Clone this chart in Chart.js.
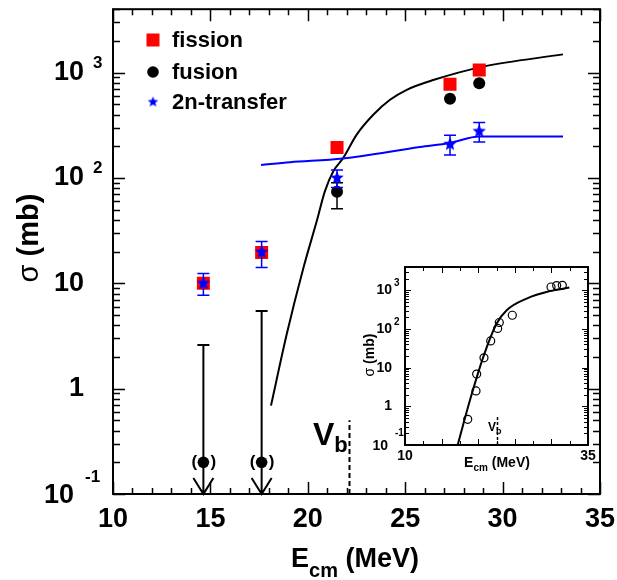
<!DOCTYPE html>
<html>
<head>
<meta charset="utf-8">
<script src="https://cdn.jsdelivr.net/npm/chart.js@4/dist/chart.umd.min.js"></script>
<style>
  body { margin: 0; background: #fff; }
  #wrap { position: relative; width: 617px; height: 580px; }
  #main { position: absolute; left: 0; top: 0; }
  #inset { position: absolute; left: 340px; top: 255px; }
</style>
</head>
<body>
<div id="wrap">
  <canvas id="main" width="617" height="580"></canvas>
  <canvas id="inset" width="277" height="225"></canvas>
</div>
<script>
// --- DATOS ---
const energias = [14.64, 17.63, 21.5, 27.3, 28.8];
const fision = [10, 19.6, 195, 776, 1060];

const fusionE = [21.5, 27.3, 28.8];
const fusion = [74, 565, 792];
const fusionErrBajo = [51, null, null];
const fusionErrAlto = [90, null, null];

// límites superiores de fusión (puntos entre paréntesis con flecha)
const limiteE = [14.64, 17.63];
const limitePunto = [0.2, 0.2];
const limiteTope = [2.6, 5.45];

const transferE = [14.64, 17.63, 21.5, 27.3, 28.8];
const transfer = [10, 19.8, 100, 209, 277];
const transferErrBajo = [7.7, 14.1, 81, 165, 219];
const transferErrAlto = [12.4, 24.9, 119, 255, 337];

// curva calculada de fusión
const curvaFusionE = [18.11, 18.92, 19.77, 20.46, 20.88, 21.31, 21.82, 22.51, 23.36, 24.22, 25.08, 26.44, 29.0, 33.1];
const curvaFusion = [0.69, 3.3, 13.9, 39, 75, 116, 155, 258, 398, 552, 687, 850, 1140, 1490];

// curva calculada de transferencia 2n
const curvaTransferE = [17.6, 19.09, 21.8, 25.76, 27.3, 28.8, 33.1];
const curvaTransfer = [133, 141, 153, 197, 215, 247, 247];

const vbEnergia = 22.13;
const vbTope = 0.5;

const ticksX = [10, 15, 20, 25, 30, 35];
const ticksY = [0.1, 1, 10, 100, 1000];
const etiquetasY = [['10', '-1'], ['1', ''], ['10', ''], ['10', '2'], ['10', '3']];

// inserto
const insetE = [18.57, 19.70, 19.79, 20.79, 21.71, 22.66, 22.88, 24.66, 29.95, 30.72, 31.49];
const insetSigma = [0.46, 2.5, 6.8, 17.9, 49, 103, 147, 226, 1217, 1320, 1340];
const insetCurvaE = [17.2, 18.88, 20.70, 22.52, 23.89, 26.62, 29.81, 32.45];
const insetCurva = [0.1, 1.45, 19, 138, 305, 611, 955, 1175];
const insetVb = 22.5;
const insetTicksX = [10, 35];

const FUENTE = '"Liberation Sans", Arial, Helvetica, sans-serif';

const zip = (xs, ys) => xs.map((v, i) => ({ x: v, y: ys[i] }));

function hacerEstrella(r, color) {
  const c = document.createElement('canvas');
  c.width = c.height = Math.ceil(r * 2) + 2;
  const g = c.getContext('2d');
  g.fillStyle = color;
  g.beginPath();
  for (let i = 0; i < 10; i++) {
    const rad = i % 2 ? r * 0.45 : r;
    const ang = -Math.PI / 2 + i * Math.PI / 5;
    g.lineTo(c.width / 2 + rad * Math.cos(ang), c.height / 2 + rad * Math.sin(ang));
  }
  g.closePath();
  g.fill();
  return c;
}
const estrella = hacerEstrella(7, '#0000ff');
const estrellaLeyenda = hacerEstrella(5.5, '#0000ff');

// --- EJES DIBUJADOS A MANO (ticks hacia dentro) ---
function dibujarMarco(chart, cfg) {
  const { ctx, chartArea: a, scales: { x, y } } = chart;
  ctx.save();
  ctx.strokeStyle = '#000';
  ctx.lineWidth = cfg.anchoTick;
  ctx.beginPath();
  for (let v = x.min; v <= x.max + 1e-9; v += cfg.pasoX) {
    const px = Math.round(x.getPixelForValue(v)) + 0.5;
    const mayor = Math.abs(v / cfg.mayorX - Math.round(v / cfg.mayorX)) < 1e-6;
    const L = mayor ? cfg.largo : cfg.corto;
    ctx.moveTo(px, a.bottom); ctx.lineTo(px, a.bottom - L);
    ctx.moveTo(px, a.top); ctx.lineTo(px, a.top + L);
  }
  for (let k = -1; k <= 3; k++) {
    for (let d = 1; d <= 9; d++) {
      const v = d * Math.pow(10, k);
      if (v > y.max) break;
      const py = Math.round(y.getPixelForValue(v)) + 0.5;
      const L = d === 1 ? cfg.largo : cfg.cortoY;
      ctx.moveTo(a.left, py); ctx.lineTo(a.left + L, py);
      ctx.moveTo(a.right, py); ctx.lineTo(a.right - L, py);
    }
  }
  ctx.stroke();
  ctx.lineWidth = cfg.anchoMarco;
  ctx.strokeRect(a.left, a.top, a.right - a.left, a.bottom - a.top);
  ctx.restore();
}

function dibujarEtiquetas(chart, cfg, tx) {
  const { ctx, chartArea: a, scales: { x, y } } = chart;
  ctx.save();
  ctx.fillStyle = '#000';
  ctx.font = `bold ${cfg.fx}px ${FUENTE}`;
  ctx.textAlign = 'center';
  ctx.textBaseline = 'middle';
  tx.forEach(v => ctx.fillText(String(v), x.getPixelForValue(v), a.bottom + cfg.dyX));

  ticksY.forEach((v, i) => {
    const py = y.getPixelForValue(v);
    const [base, sup] = etiquetasY[i];
    const abajo = i === 0;
    ctx.font = `bold ${cfg.fy}px ${FUENTE}`;
    ctx.textAlign = 'right';
    ctx.textBaseline = 'middle';
    ctx.fillText(base, a.left - (abajo ? cfg.baseAbajoX : cfg.baseX), py + (abajo ? cfg.baseAbajoY : 0));
    if (sup) {
      ctx.font = `bold ${cfg.fsup}px ${FUENTE}`;
      ctx.textAlign = 'left';
      ctx.textBaseline = 'alphabetic';
      ctx.fillText(sup, a.left - (abajo ? cfg.supAbajoX : cfg.supX), py - (abajo ? cfg.supAbajoY : cfg.supY));
    }
  });
  ctx.restore();
}

function tituloX(ctx, cx, base, f, fsub, dsub) {
  ctx.save();
  ctx.fillStyle = '#000';
  ctx.textAlign = 'left';
  ctx.textBaseline = 'alphabetic';
  ctx.font = `bold ${f}px ${FUENTE}`;
  const wE = ctx.measureText('E').width;
  const wR = ctx.measureText(' (MeV)').width;
  ctx.font = `bold ${fsub}px ${FUENTE}`;
  const wS = ctx.measureText('cm').width;
  let x0 = cx - (wE + wS + wR) / 2;
  ctx.font = `bold ${f}px ${FUENTE}`;
  ctx.fillText('E', x0, base);
  ctx.font = `bold ${fsub}px ${FUENTE}`;
  ctx.fillText('cm', x0 + wE, base + dsub);
  ctx.font = `bold ${f}px ${FUENTE}`;
  ctx.fillText(' (MeV)', x0 + wE + wS, base);
  ctx.restore();
}

function tituloY(ctx, cx, cy, f) {
  ctx.save();
  ctx.translate(cx, cy);
  ctx.rotate(-Math.PI / 2);
  ctx.fillStyle = '#000';
  ctx.textBaseline = 'middle';
  ctx.textAlign = 'left';
  ctx.font = `${f}px ${FUENTE}`;
  const wS = ctx.measureText('σ').width;
  ctx.font = `bold ${f}px ${FUENTE}`;
  const wR = ctx.measureText(' (mb)').width;
  const x0 = -(wS + wR) / 2;
  ctx.font = `${f}px ${FUENTE}`;
  ctx.fillText('σ', x0, 0);
  ctx.font = `bold ${f}px ${FUENTE}`;
  ctx.fillText(' (mb)', x0 + wS, 0);
  ctx.restore();
}

function etiquetaVb(ctx, x, base, f, fsub) {
  ctx.save();
  ctx.fillStyle = '#000';
  ctx.textAlign = 'left';
  ctx.textBaseline = 'alphabetic';
  ctx.font = `bold ${f}px ${FUENTE}`;
  ctx.fillText('V', x, base);
  const w = ctx.measureText('V').width;
  ctx.font = `bold ${fsub}px ${FUENTE}`;
  ctx.fillText('b', x + w, base + f * 0.22);
  ctx.restore();
}

function lineaVb(chart, e, tope, dash, ancho) {
  const { ctx, chartArea: a, scales: { x, y } } = chart;
  const px = Math.round(x.getPixelForValue(e)) + 0.5;
  ctx.save();
  ctx.strokeStyle = '#000';
  ctx.lineWidth = ancho;
  ctx.setLineDash(dash);
  ctx.beginPath();
  ctx.moveTo(px, a.bottom);
  ctx.lineTo(px, y.getPixelForValue(tope));
  ctx.stroke();
  ctx.restore();
}

// barras de error y flechas antes de cada dataset
const pluginErrores = {
  id: 'errores',
  beforeDatasetDraw(chart, args) {
    const ds = chart.data.datasets[args.index];
    const { ctx, chartArea: a, scales: { x, y } } = chart;
    if (ds.errBajo) {
      ctx.save();
      ctx.strokeStyle = ds.errColor;
      ctx.lineWidth = 1.5;
      ctx.beginPath();
      ds.data.forEach((p, i) => {
        if (ds.errBajo[i] == null) return;
        const px = x.getPixelForValue(p.x);
        const y1 = y.getPixelForValue(ds.errBajo[i]);
        const y2 = y.getPixelForValue(ds.errAlto[i]);
        ctx.moveTo(px, y1); ctx.lineTo(px, y2);
        ctx.moveTo(px - 6, y1); ctx.lineTo(px + 6, y1);
        ctx.moveTo(px - 6, y2); ctx.lineTo(px + 6, y2);
      });
      ctx.stroke();
      ctx.restore();
    }
    if (ds.tope) {
      ctx.save();
      ctx.strokeStyle = '#000';
      ctx.lineWidth = 2;
      ctx.beginPath();
      ds.data.forEach((p, i) => {
        const px = x.getPixelForValue(p.x);
        const yt = y.getPixelForValue(ds.tope[i]);
        ctx.moveTo(px - 6, yt); ctx.lineTo(px + 6, yt);
        ctx.moveTo(px, yt); ctx.lineTo(px, a.bottom);
        ctx.moveTo(px - 10, a.bottom - 16); ctx.lineTo(px, a.bottom); ctx.lineTo(px + 10, a.bottom - 16);
      });
      ctx.stroke();
      ctx.restore();
    }
  },
  afterDatasetDraw(chart, args) {
    const ds = chart.data.datasets[args.index];
    if (!ds.tope) return;
    const { ctx, scales: { x, y } } = chart;
    ctx.save();
    ctx.fillStyle = '#000';
    ctx.font = `bold 17px ${FUENTE}`;
    ctx.textAlign = 'center';
    ctx.textBaseline = 'middle';
    ds.data.forEach(p => {
      const px = x.getPixelForValue(p.x);
      const py = y.getPixelForValue(p.y);
      ctx.fillText('(', px - 9, py);
      ctx.fillText(')', px + 10, py);
    });
    ctx.restore();
  }
};

const cfgPrincipal = {
  pasoX: 1, mayorX: 5, largo: 12, corto: 6, cortoY: 7, anchoTick: 1.5, anchoMarco: 2,
  fx: 27, dyX: 26, fy: 27, fsup: 17,
  baseX: 29, supX: 20, supY: 5,
  baseAbajoX: 39, baseAbajoY: 2, supAbajoX: 28, supAbajoY: 12
};

const pluginPrincipal = {
  id: 'principal',
  afterDraw(chart) {
    const ctx = chart.ctx;
    lineaVb(chart, vbEnergia, vbTope, [5, 3], 2);
    dibujarMarco(chart, cfgPrincipal);
    dibujarEtiquetas(chart, cfgPrincipal, ticksX);
    tituloX(ctx, 355, 567, 27, 20, 10);
    tituloY(ctx, 30, 238, 29);
    etiquetaVb(ctx, 313, 445, 32, 22);

    // leyenda
    const marcas = [
      { ds: chart.data.datasets[2], y: 40 },
      { ds: chart.data.datasets[3], y: 72 },
      { ds: chart.data.datasets[5], y: 102 }
    ];
    ctx.save();
    marcas.forEach((m, i) => {
      const cx = 153;
      if (i === 0) {
        ctx.fillStyle = m.ds.backgroundColor;
        ctx.fillRect(cx - 6.5, m.y - 6.5, 13, 13);
      } else if (i === 1) {
        ctx.fillStyle = m.ds.backgroundColor;
        ctx.beginPath();
        ctx.arc(cx, m.y, 5.8, 0, Math.PI * 2);
        ctx.fill();
      } else {
        ctx.drawImage(estrellaLeyenda, cx - estrellaLeyenda.width / 2, m.y - estrellaLeyenda.height / 2);
      }
      ctx.fillStyle = '#000';
      ctx.font = `bold 22px ${FUENTE}`;
      ctx.textAlign = 'left';
      ctx.textBaseline = 'middle';
      ctx.fillText(m.ds.label, 172, m.y + 1);
    });
    ctx.restore();
  }
};

new Chart(document.getElementById('main'), {
  type: 'scatter',
  data: {
    datasets: [
      {
        label: 'fusión calc', data: zip(curvaFusionE, curvaFusion), showLine: true,
        borderColor: '#000', borderWidth: 2, pointRadius: 0, cubicInterpolationMode: 'monotone', order: 6
      },
      {
        label: '2n calc', data: zip(curvaTransferE, curvaTransfer), showLine: true,
        borderColor: '#0000ff', borderWidth: 2, pointRadius: 0, cubicInterpolationMode: 'monotone', order: 5
      },
      {
        label: 'fission', data: zip(energias, fision), pointStyle: 'rect', pointRadius: 9.2,
        backgroundColor: '#ff0000', borderWidth: 0, order: 4
      },
      {
        label: 'fusion', data: zip(fusionE, fusion), pointStyle: 'circle', pointRadius: 6,
        backgroundColor: '#000', borderWidth: 0, order: 3,
        errBajo: fusionErrBajo, errAlto: fusionErrAlto, errColor: '#000'
      },
      {
        label: 'fusion límite', data: zip(limiteE, limitePunto), pointStyle: 'circle', pointRadius: 5.8,
        backgroundColor: '#000', borderWidth: 0, order: 2, tope: limiteTope
      },
      {
        label: '2n-transfer', data: zip(transferE, transfer), pointStyle: estrella, pointRadius: 6,
        backgroundColor: '#0000ff', order: 1,
        errBajo: transferErrBajo, errAlto: transferErrAlto, errColor: '#0000ff'
      }
    ]
  },
  options: {
    responsive: false,
    animation: false,
    devicePixelRatio: 1,
    layout: { padding: { left: 113, right: 17, top: 6, bottom: 86 } },
    plugins: { legend: { display: false }, tooltip: { enabled: false } },
    scales: {
      x: { type: 'linear', min: 10, max: 35, display: false },
      y: { type: 'logarithmic', min: 0.1, max: 4000, display: false }
    }
  },
  plugins: [pluginErrores, pluginPrincipal]
});

// --- INSERTO ---
const cfgInserto = {
  pasoX: 2.5, mayorX: 5, largo: 6, corto: 4, cortoY: 4, anchoTick: 1, anchoMarco: 2,
  fx: 14, dyX: 11, fy: 14, fsup: 10,
  baseX: 13, supX: 11, supY: 4,
  baseAbajoX: 17, baseAbajoY: 1, supAbajoX: 10, supAbajoY: 9
};

const pluginInserto = {
  id: 'inserto',
  afterDraw(chart) {
    const ctx = chart.ctx;
    lineaVb(chart, insetVb, 0.53, [3, 2], 1.5);
    dibujarMarco(chart, cfgInserto);
    dibujarEtiquetas(chart, cfgInserto, insetTicksX);
    tituloX(ctx, 157, 212, 14, 10, 4);
    tituloY(ctx, 30, 100, 14);
    etiquetaVb(ctx, 148, 176, 12, 9);
  }
};

new Chart(document.getElementById('inset'), {
  type: 'scatter',
  data: {
    datasets: [
      {
        label: 'calc', data: zip(insetCurvaE, insetCurva), showLine: true,
        borderColor: '#000', borderWidth: 2, pointRadius: 0, cubicInterpolationMode: 'monotone', order: 2
      },
      {
        label: 'datos', data: zip(insetE, insetSigma), pointStyle: 'circle', pointRadius: 4,
        backgroundColor: 'rgba(0,0,0,0)', borderColor: '#000', borderWidth: 1.2, order: 1
      }
    ]
  },
  options: {
    responsive: false,
    animation: false,
    devicePixelRatio: 1,
    layout: { padding: { left: 65, right: 29, top: 12, bottom: 35 } },
    plugins: { legend: { display: false }, tooltip: { enabled: false } },
    scales: {
      x: { type: 'linear', min: 10, max: 35, display: false },
      y: { type: 'logarithmic', min: 0.1, max: 4000, display: false }
    }
  },
  plugins: [pluginInserto]
});
</script>
</body>
</html>
